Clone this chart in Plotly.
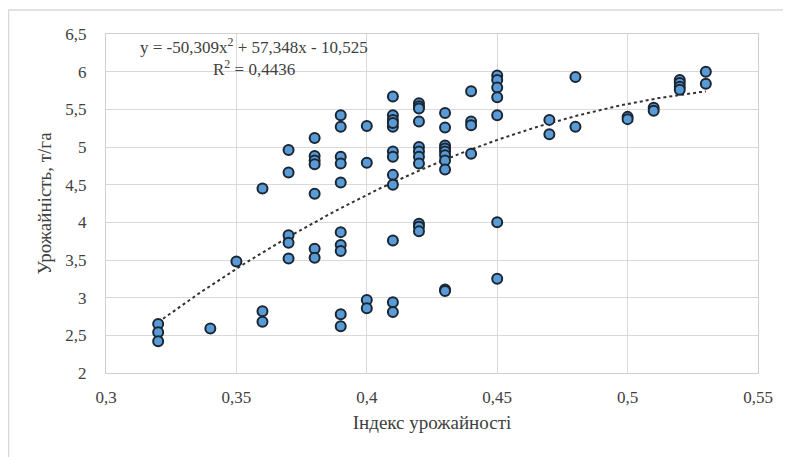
import numpy as np
import plotly.graph_objects as go

# Data
x_index = [0.32, 0.32, 0.32, 0.34, 0.35, 0.36, 0.36, 0.36,
           0.37, 0.37, 0.37, 0.37, 0.37,
           0.38, 0.38, 0.38, 0.38, 0.38, 0.38, 0.38,
           0.39, 0.39, 0.39, 0.39, 0.39, 0.39, 0.39, 0.39, 0.39, 0.39,
           0.40, 0.40, 0.40, 0.40,
           0.41, 0.41, 0.41, 0.41, 0.41, 0.41, 0.41, 0.41, 0.41, 0.41, 0.41, 0.41,
           0.42, 0.42, 0.42, 0.42, 0.42, 0.42, 0.42, 0.42, 0.42, 0.42, 0.42,
           0.43, 0.43, 0.43, 0.43, 0.43, 0.43, 0.43, 0.43, 0.43, 0.43,
           0.44, 0.44, 0.44, 0.44,
           0.45, 0.45, 0.45, 0.45, 0.45, 0.45, 0.45,
           0.47, 0.47, 0.48, 0.48, 0.50, 0.50, 0.51, 0.51,
           0.52, 0.52, 0.52, 0.52, 0.53, 0.53]
y_yield = [2.65, 2.54, 2.42, 2.59, 3.48, 4.45, 2.82, 2.68,
           4.96, 4.66, 3.83, 3.73, 3.52,
           5.12, 4.88, 4.82, 4.77, 4.38, 3.65, 3.53,
           5.42, 5.27, 4.87, 4.78, 4.53, 3.87, 3.70, 3.62, 2.78, 2.62,
           5.28, 4.79, 2.97, 2.86,
           5.67, 5.42, 5.36, 5.27, 4.94, 4.87, 4.63, 4.50, 3.76, 2.94, 2.81, 5.32,
           5.58, 5.54, 5.51, 5.34, 5.00, 4.94, 4.87, 4.78, 3.98, 3.94, 3.88,
           5.45, 5.26, 5.02, 4.98, 4.94, 4.89, 4.82, 4.70, 3.11, 3.09,
           5.74, 5.34, 5.29, 4.91,
           5.95, 5.89, 5.79, 5.66, 5.42, 4.00, 3.25,
           5.36, 5.17, 5.93, 5.27, 5.40, 5.37, 5.52, 5.48,
           5.89, 5.85, 5.80, 5.76, 6.00, 5.84]

# Trendline coefficients shown on the chart (a*x^2 + b*x + c)
trend_coef = [-50.309, 57.348, -10.525]
trend_range = [0.32, 0.53]

x_ticks = [0.3, 0.35, 0.4, 0.45, 0.5, 0.55]
y_ticks = [2, 2.5, 3, 3.5, 4, 4.5, 5, 5.5, 6, 6.5]

x_title = "Індекс урожайності"
y_title = "Урожайність, т/га"
eq_text = "y = -50,309x<sup>2</sup> + 57,348x - 10,525"
r2_text = "R<sup>2</sup> = 0,4436"

tx = np.linspace(trend_range[0], trend_range[1], 200)
ty = np.polyval(trend_coef, tx)

FONT = "Liberation Serif"
COL = "#404040"

# page body has an 8px default margin, so the figure is drawn 8px in from the window edge
W, H = 783, 449
PL, PR, PT, PB = 98, 750, 26, 365.5  # plot area in figure pixels
pw, ph = PR - PL, PB - PT

def px(xp):
    return (xp - 8 - PL) / pw

def py(yp):
    return 1 - (yp - 8 - PT) / ph

fig = go.Figure()
fig.add_trace(go.Scatter(
    x=tx, y=ty, mode="lines",
    line=dict(color="#333333", width=2, dash="dot"),
    hoverinfo="skip", showlegend=False))
fig.add_trace(go.Scatter(
    x=x_index, y=y_yield, mode="markers",
    marker=dict(size=10, color="#5b9bd5",
                line=dict(color="#1a2634", width=2)),
    showlegend=False))

fig.update_layout(
    width=W, height=H,
    margin=dict(l=PL, r=W - PR, t=PT, b=H - PB),
    paper_bgcolor="white", plot_bgcolor="white",
    separators=", ",
    font=dict(family=FONT, size=17, color=COL),
    xaxis=dict(range=[0.3, 0.55], tickvals=x_ticks,
               showgrid=True, gridcolor="#d9d9d9", gridwidth=1.3,
               zeroline=False, showline=True, linecolor="#d0d0d0", linewidth=1.3,
               mirror=True, ticks="outside", ticklen=8, tickcolor="rgba(0,0,0,0)",
               tickfont=dict(family=FONT, size=17, color=COL),
               title=dict(text=x_title, standoff=10,
                          font=dict(family=FONT, size=19, color=COL))),
    yaxis=dict(range=[2, 6.5], tickvals=y_ticks,
               showgrid=True, gridcolor="#d9d9d9", gridwidth=1.3,
               zeroline=False, showline=True, linecolor="#d0d0d0", linewidth=1.3,
               mirror=True, ticks="outside", ticklen=15, tickcolor="rgba(0,0,0,0)",
               tickfont=dict(family=FONT, size=17, color=COL),
               title=dict(text=y_title, standoff=8,
                          font=dict(family=FONT, size=19, color=COL))),
    shapes=[
        dict(type="line", xref="paper", yref="paper",
             x0=px(8), x1=px(800), y0=py(10), y1=py(10),
             line=dict(color="#d9d9d9", width=1.5)),
        dict(type="line", xref="paper", yref="paper",
             x0=px(8.5), x1=px(8.5), y0=py(470), y1=py(10),
             line=dict(color="#d9d9d9", width=1.5)),
    ],
    annotations=[
        dict(text=eq_text, xref="paper", yref="paper",
             x=px(254), y=py(46),
             xanchor="center", yanchor="middle", showarrow=False,
             font=dict(family=FONT, size=17, color=COL)),
        dict(text=r2_text, xref="paper", yref="paper",
             x=px(254), y=py(68),
             xanchor="center", yanchor="middle", showarrow=False,
             font=dict(family=FONT, size=17, color=COL)),
    ],
)

fig.write_html("out.html")
